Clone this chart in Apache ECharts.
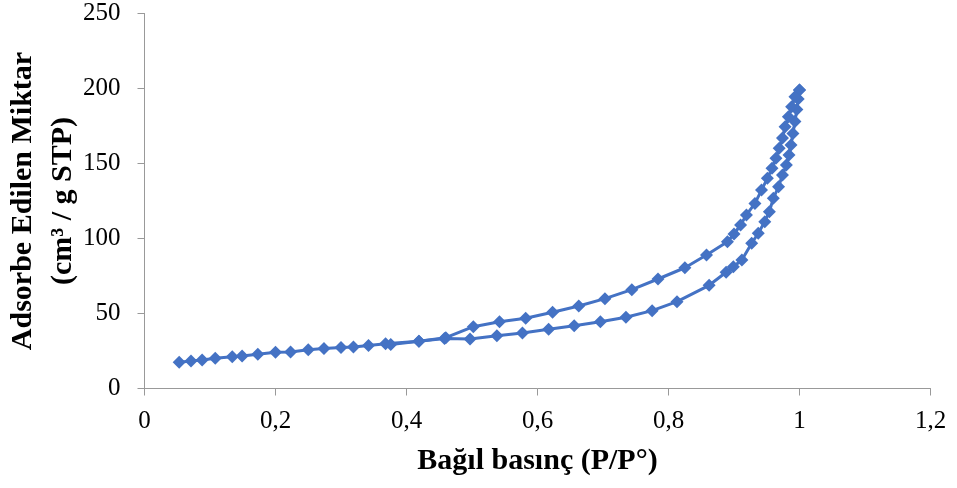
<!DOCTYPE html>
<html>
<head>
<meta charset="utf-8">
<script src="https://cdn.jsdelivr.net/npm/echarts@6/dist/echarts.min.js"></script>
<style>html,body{margin:0;padding:0;background:#fff}#c{width:957px;height:488px}</style>
</head>
<body>
<div id="c"></div>
<script>
var adsX = [0.053,0.071,0.088,0.108,0.134,0.149,0.173,0.200,0.223,0.250,0.274,0.300,0.319,0.342,0.368,0.419,0.458,0.497,0.538,0.577,0.617,0.656,0.696,0.735,0.775,0.813,0.862,0.888,0.899,0.912,0.927,0.937,0.947,0.954,0.960,0.968,0.974,0.980,0.984,0.987,0.990,0.993,0.996,0.998,1.0];
var adsY = [17.5,18.3,19.0,20.1,21.2,21.7,22.8,24.1,24.3,25.9,26.6,27.4,27.7,28.6,29.9,31.5,33.4,33.0,35.2,37.0,39.5,41.9,44.5,47.5,51.9,57.9,68.8,77.5,81.2,85.7,96.8,103.5,111.2,117.9,126.8,134.5,142.3,149.0,155.7,162.3,170,178,186,193,199];
var desX = [1.0,0.993,0.988,0.983,0.978,0.974,0.969,0.964,0.958,0.951,0.942,0.932,0.919,0.910,0.900,0.890,0.858,0.825,0.784,0.744,0.703,0.663,0.623,0.582,0.542,0.502,0.460,0.419,0.376];
var desY = [199,194.5,187.9,181.2,174.5,167,160.1,153.5,146.8,140.1,132.3,123.4,115.7,109,103,97.9,89,80.5,73,65.9,59.9,55,50.8,46.8,44.5,41.2,33.9,31.5,29.4];
var xTickLabels = {"0":"0","0.2":"0,2","0.4":"0,4","0.6":"0,6","0.8":"0,8","1":"1","1.2":"1,2"};
var xTitle = "Bağıl basınç (P/P°)";
var yTitle = "Adsorbe Edilen Miktar\n(cm³ / g STP)";

function pairs(xs, ys){ return xs.map(function(x,i){ return [x, ys[i]]; }); }
var font = "'Liberation Serif','Times New Roman',serif";
var axisColor = '#999999';
var chart = echarts.init(document.getElementById('c'));
var seriesStyle = {
  type: 'line', symbol: 'diamond', symbolSize: 13, showSymbol: true,
  lineStyle: {color: '#4472C4', width: 3},
  itemStyle: {color: '#4472C4'},
  animation: false, z: 3
};
chart.setOption({
  animation: false,
  grid: {left: 144.5, right: 26.5, top: 13.5, bottom: 99.5, containLabel: false, outerBoundsMode: 'none'},
  xAxis: {
    type: 'value', min: 0, max: 1.2, interval: 0.2,
    name: xTitle, nameLocation: 'middle', nameGap: 58, nameMoveOverlap: false,
    nameTextStyle: {fontFamily: font, fontSize: 30, fontWeight: 'bold', color: '#000'},
    axisLine: {show: true, lineStyle: {color: axisColor, width: 1}},
    axisTick: {show: true, inside: false, length: 7, lineStyle: {color: axisColor}},
    splitLine: {show: false},
    axisLabel: {fontFamily: font, fontSize: 25, color: '#000', margin: 20,
      formatter: function(v){ var k = String(Math.round(v*10)/10); return xTickLabels[k] !== undefined ? xTickLabels[k] : k; }}
  },
  yAxis: {
    type: 'value', min: 0, max: 250, interval: 50,
    name: yTitle, nameLocation: 'middle', nameGap: 61, nameMoveOverlap: false,
    nameTextStyle: {fontFamily: font, fontSize: 30, fontWeight: 'bold', color: '#000', lineHeight: 40},
    axisLine: {show: true, lineStyle: {color: axisColor, width: 1}},
    axisTick: {show: true, inside: false, length: 7, lineStyle: {color: axisColor}},
    splitLine: {show: false},
    axisLabel: {fontFamily: font, fontSize: 25, color: '#000', margin: 24}
  },
  series: [
    Object.assign({name: 'Adsorpsiyon', data: pairs(adsX, adsY)}, seriesStyle),
    Object.assign({name: 'Desorpsiyon', data: pairs(desX, desY)}, seriesStyle)
  ]
});
</script>
</body>
</html>
